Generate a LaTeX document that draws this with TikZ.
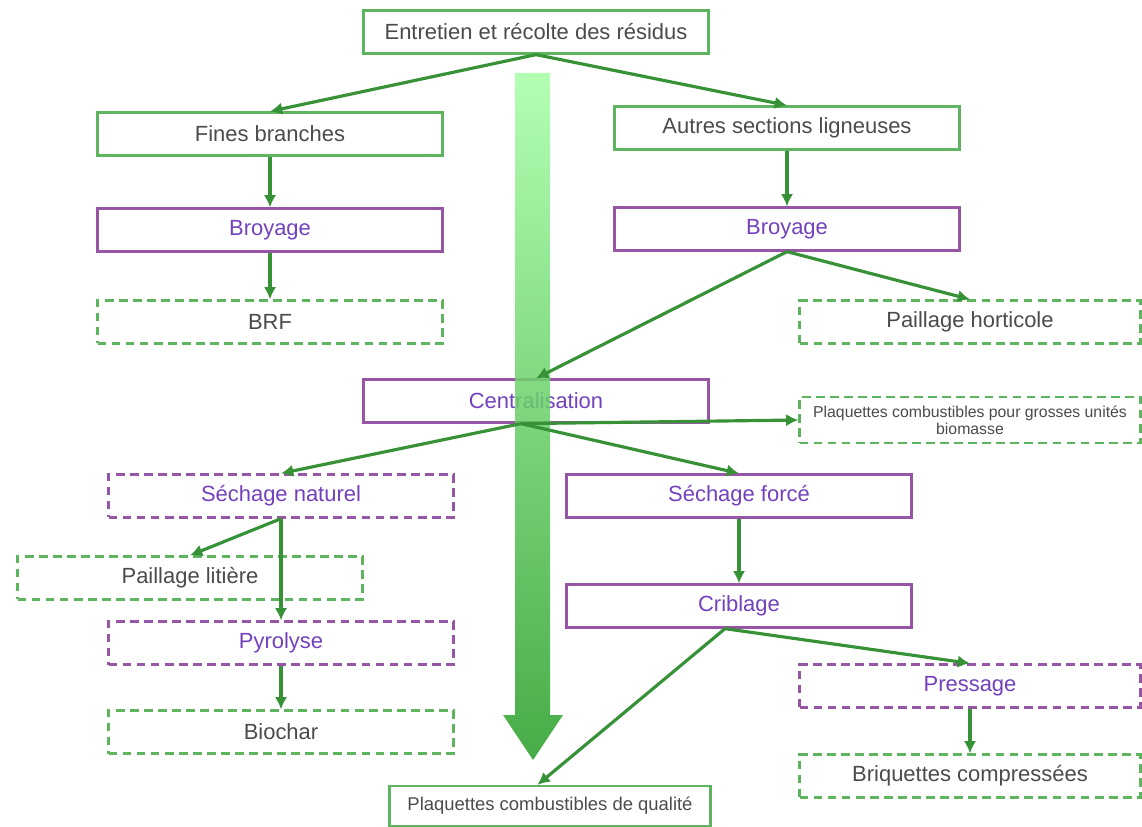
\documentclass[tikz,border=0pt]{standalone}
\usepackage{fontspec}
\setmainfont{Liberation Sans}
\usetikzlibrary{arrows.meta}
\definecolor{boxgreen}{RGB}{95,180,95}
\definecolor{linegreen}{RGB}{55,145,55}
\definecolor{boxpurple}{RGB}{150,85,165}
\definecolor{txtpurple}{RGB}{115,65,190}
\definecolor{txtgray}{RGB}{75,75,75}
\tikzset{
  box/.style={draw, rectangle, line width=1.3pt, minimum height=0.86cm, minimum width=6.9cm, inner sep=0pt, align=center, font=\fontsize{12.5}{14}\selectfont},
  prod/.style={box, draw=boxgreen, text=txtgray},
  proc/.style={box, draw=boxpurple, text=txtpurple},
  opt/.style={dashed, dash pattern=on 5pt off 3pt},
  line/.style={-{Latex[length=7pt,width=7pt]}, line width=1.8pt, draw=linegreen}
}
\begin{document}
\begin{tikzpicture}[x=0.02cm, y=-0.02cm]
    \useasboundingbox (0,0) rectangle (1142,827);
    \node[prod] (recolte) at (536,32) {Entretien et récolte des résidus};
    \node[prod] (fines) at (270,134) {Fines branches};
    \node[prod] (autres) at (787,128) {Autres sections ligneuses};

    \node[proc] (broyA) at (270,230) {Broyage};
    \node[proc] (broyB) at (787,229) {Broyage};

    \node[prod, opt] (brf) at (270,322) {BRF};
    \node[prod, opt, minimum width=6.82cm] (horti) at (970,322) {Paillage horticole};

    \node[proc] (central) at (536,401) {Centralisation};
    \node[prod, opt, minimum width=6.82cm, minimum height=0.92cm, font=\fontsize{9}{9.5}\selectfont] (grosses) at (970,420) {Plaquettes combustibles pour grosses unités\\biomasse};

    \node[proc, opt] (sechN) at (281,496) {Séchage naturel};
    \node[proc] (sechF) at (739,496) {Séchage forcé};

    \node[prod, opt] (litiere) at (190,578) {Paillage litière};
    \node[proc] (crible) at (739,606) {Criblage};

    \node[proc, opt] (pyro) at (281,643) {Pyrolyse};
    \node[proc, opt, minimum width=6.82cm] (presse) at (970,686) {Pressage};

    \node[prod, opt] (biochar) at (281,732) {Biochar};
    \node[prod, opt, minimum width=6.82cm] (briq) at (970,776) {Briquettes compressées};

    \node[prod, minimum width=6.42cm, minimum height=0.8cm, font=\fontsize{10.5}{12}\selectfont] (qualite) at (550,806) {Plaquettes combustibles de qualité};

    % grande fleche
    \shade[top color=green!35!white, bottom color=green!55!black!85, opacity=0.85]
      (515,73) -- (550,73) -- (550,715) -- (563,715) -- (533,760) -- (503,715) -- (515,715) -- cycle;

    \coordinate (cs) at ([xshift=-0.3cm]central.south);
    \coordinate (ks) at ([xshift=-0.28cm]crible.south);

    \draw[line] (recolte.south) -- (fines.north);
    \draw[line] (recolte.south) -- (autres.north);
    \draw[line] (fines) -- (broyA);
    \draw[line] (autres) -- (broyB);
    \draw[line] (broyA) -- (brf);
    \draw[line] (broyB.south) -- (horti.north);
    \draw[line] (broyB.south) -- (central.north);

    \draw[line] (cs) -- (sechN.north);
    \draw[line] (cs) -- (sechF.north);
    \draw[line] (cs) -- (grosses.west);

    \draw[line] (sechN.south) -- (litiere.north);
    \draw[line] (sechN) -- (pyro);
    \draw[line] (pyro) -- (biochar);

    \draw[line] (sechF) -- (crible);
    \draw[line] (ks) -- ([xshift=-0.25cm]qualite.north);
    \draw[line] (ks) -- (presse.north);
    \draw[line] (presse) -- (briq);
\end{tikzpicture}
\end{document}
